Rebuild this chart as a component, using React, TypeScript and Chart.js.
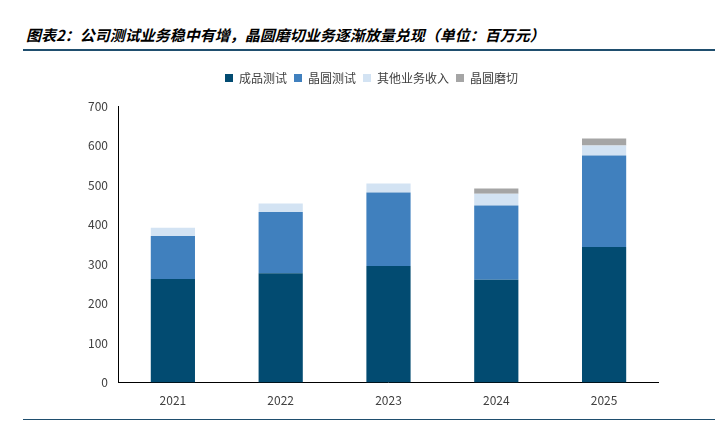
import React, { useEffect, useRef } from "react";
import { Chart, registerables } from "chart.js";
Chart.register(...registerables);

const years = ["2021", "2022", "2023", "2024", "2025"];
const finished = [262, 277, 295, 260, 343];
const wafer = [109, 155, 186, 188, 232];
const other = [21, 21, 23, 30, 25];
const grinding = [0, 0, 0, 13, 18];

export default function App() {
  const ref = useRef<HTMLCanvasElement>(null);
  useEffect(() => {
    document.body.style.margin = "0";
    const font = "'Noto Sans CJK SC', 'Liberation Sans', sans-serif";
    const chart = new Chart(ref.current!, {
      type: "bar",
      data: {
        labels: years,
        datasets: [
          { label: "成品测试", data: finished, backgroundColor: "#024B71" },
          { label: "晶圆测试", data: wafer, backgroundColor: "#4080BE" },
          { label: "其他业务收入", data: other, backgroundColor: "#D3E3F3" },
          { label: "晶圆磨切", data: grinding, backgroundColor: "#A5A5A5" },
        ].map((d) => ({ ...d, barPercentage: 0.41, categoryPercentage: 1, borderWidth: 0 })),
      },
      plugins: [
        {
          id: "legendGap",
          beforeLayout(c: any) {
            const lg = c.legend;
            if (lg && !lg._gapWrapped) {
              const f = lg.fit.bind(lg);
              lg.fit = function () {
                f();
                this.height += 12;
              };
              lg._gapWrapped = true;
            }
          },
        },
      ],
      options: {
        animation: false,
        responsive: false,
        layout: { padding: { top: 65, left: 85, right: 69, bottom: 16 } },
        plugins: {
          legend: {
            position: "top",
            labels: { boxWidth: 8, boxHeight: 8, color: "#404040", font: { family: font, size: 12 }, padding: 7 },
          },
          tooltip: { enabled: false },
        },
        scales: {
          x: {
            stacked: true,
            grid: { display: false },
            border: { color: "#000" },
            ticks: { color: "#404040", font: { family: font, size: 12 } },
          },
          y: {
            stacked: true,
            min: 0,
            max: 700,
            grid: { display: false, drawTicks: true },
            border: { color: "#000" },
            ticks: { stepSize: 100, color: "#404040", font: { family: font, size: 12 } },
          },
        },
      },
    });
    return () => chart.destroy();
  }, []);
  return (
    <div style={{ position: "relative", width: 727, height: 427, background: "#fff" }}>
      <div
        style={{
          position: "absolute", left: 26, top: 24, fontFamily: "'Noto Sans CJK SC', sans-serif",
          fontStyle: "italic", fontWeight: "bold", fontSize: 15, color: "#000",
        }}
      >
        图表2：公司测试业务稳中有增，晶圆磨切业务逐渐放量兑现（单位：百万元）
      </div>
      <div style={{ position: "absolute", left: 23, top: 49, width: 692, height: 2, background: "#1F4E6E" }} />
      <div style={{ position: "absolute", left: 23, top: 419, width: 692, height: 1, background: "#1F4E6E" }} />
      <canvas ref={ref} width={727} height={427} style={{ position: "absolute", left: 0, top: 0 }} />
    </div>
  );
}
